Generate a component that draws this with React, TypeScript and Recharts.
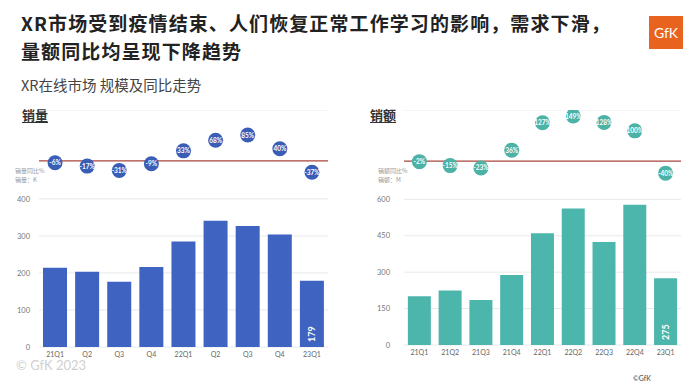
import React from "react";
import {
  ComposedChart,
  Bar,
  Line,
  XAxis,
  YAxis,
  CartesianGrid,
  ReferenceLine,
  LabelList,
} from "recharts";

// 销量 (K) 与同比
const volQuarters = ["21Q1", "Q2", "Q3", "Q4", "22Q1", "Q2", "Q3", "Q4", "23Q1"];
const volValues = [214, 203, 176, 216, 285, 341, 327, 304, 179];
const volYoY = [-6, -17, -31, -9, 33, 68, 85, 40, -37];
const volTicks = [0, 100, 200, 300, 400];

// 销额 (M) 与同比
const valQuarters = ["21Q1", "21Q2", "21Q3", "21Q4", "22Q1", "22Q2", "22Q3", "22Q4", "23Q1"];
const valValues = [201, 225, 185, 288, 460, 562, 424, 578, 275];
const valYoY = [-2, -15, -23, 36, 127, 149, 128, 100, -40];
const valTicks = [0, 150, 300, 450, 600];

const CJK = "'Noto Sans CJK SC', 'Noto Sans', sans-serif";
const NUM = "Lato, 'Noto Sans', sans-serif";

type PanelProps = {
  quarters: string[];
  values: number[];
  yoy: number[];
  ticks: number[];
  barMax: number;
  yoyDomain: [number, number];
  barColor: string;
  dotColor: string;
  yWidth: number;
  tickMargin: number;
  right: number;
  height: number;
};

function Panel(p: PanelProps) {
  const data = p.values.map((v, i) => ({ i, v, yoy: p.yoy[i] }));
  const last = data.length - 1;
  return (
    <ComposedChart
      width={340}
      height={p.height}
      data={data}
      margin={{ top: 0, right: p.right, left: 0, bottom: 0 }}
      barCategoryGap="12.5%"
    >
      <CartesianGrid yAxisId="bar" vertical={false} stroke="#e9e9e9" />
      <XAxis
        dataKey="i"
        type="category"
        tickFormatter={(v: number) => p.quarters[v]}
        axisLine={false}
        tickLine={false}
        tickSize={4}
        tickMargin={1}
        height={14}
        interval={0}
        tick={{ fontSize: 7, fill: "#666", fontFamily: NUM }}
      />
      <YAxis
        yAxisId="bar"
        domain={[0, p.barMax]}
        ticks={p.ticks}
        axisLine={false}
        tickLine={false}
        tickSize={4}
        tickMargin={p.tickMargin}
        width={p.yWidth}
        tick={{ fontSize: 7.5, fill: "#777", fontFamily: NUM }}
      />
      <YAxis yAxisId="yoy" hide domain={p.yoyDomain} />
      <Bar yAxisId="bar" dataKey="v" fill={p.barColor} isAnimationActive={false}>
        <LabelList
          dataKey="v"
          content={(lp: any) => {
            if (lp.index !== last) return null;
            const cx = lp.x + lp.width / 2;
            const by = lp.y + lp.height - 5;
            return (
              <text
                x={cx}
                y={by}
                transform={`rotate(-90 ${cx} ${by})`}
                textAnchor="start"
                dominantBaseline="central"
                fill="#fff"
                fontSize={9}
                fontWeight={700}
                fontFamily={NUM}
              >
                {lp.value}
              </text>
            );
          }}
        />
      </Bar>
      <ReferenceLine yAxisId="yoy" y={0} stroke="#a8463d" strokeWidth={1.2} />
      <Line
        yAxisId="yoy"
        dataKey="yoy"
        stroke="none"
        dot={{ r: 7.5, fill: p.dotColor, stroke: "none" }}
        activeDot={false}
        isAnimationActive={false}
      >
        <LabelList
          dataKey="yoy"
          content={(lp: any) => (
            <text
              x={lp.x}
              y={lp.y}
              textAnchor="middle"
              dominantBaseline="central"
              fill="#fff"
              fontSize={String(lp.value).length > 3 ? 5.5 : 6.5}
              fontWeight={700}
              fontFamily={NUM}
            >
              {lp.value}%
            </text>
          )}
        />
      </Line>
    </ComposedChart>
  );
}

const abs = (s: React.CSSProperties): React.CSSProperties => ({ position: "absolute", whiteSpace: "nowrap", ...s });

const titleStyle: React.CSSProperties = { fontSize: 19, lineHeight: "20px", letterSpacing: 1.1, fontWeight: 700, color: "#222" };

export default function App() {
  return (
    <div style={{ position: "absolute", left: 0, top: 0, width: 700, height: 390, background: "#fff", overflow: "hidden", fontFamily: CJK }}>
      <div style={abs({ left: 21, top: 13, ...titleStyle })}>
        XR市场受到疫情结束、人们恢复正常工作学习的影响，需求下滑，
      </div>
      <div style={abs({ left: 21, top: 41, ...titleStyle })}>量额同比均呈现下降趋势</div>
      <div style={abs({ left: 649, top: 16, width: 34, height: 33, background: "#e8641e", color: "#fff", fontFamily: NUM, fontSize: 14, lineHeight: "33px", textAlign: "center" })}>
        GfK
      </div>
      <div style={abs({ left: 21, top: 77, fontSize: 14.5, lineHeight: "16px", color: "#444" })}>
        XR在线市场 规模及同比走势
      </div>

      <div style={abs({ left: 22, top: 107, fontSize: 13, lineHeight: "16px", fontWeight: 700, color: "#333", textDecoration: "underline", textUnderlineOffset: 2 })}>
        销量
      </div>
      <div style={abs({ left: 370, top: 107, fontSize: 13, lineHeight: "16px", fontWeight: 700, color: "#333", textDecoration: "underline", textUnderlineOffset: 2 })}>
        销额
      </div>

      <div style={abs({ left: 15, top: 166, fontSize: 6, lineHeight: "9px", color: "#999" })}>
        销量同比%
        <br />
        销量：K
      </div>
      <div style={abs({ left: 378, top: 166, fontSize: 6, lineHeight: "9px", color: "#999" })}>
        销额同比%
        <br />
        销额：M
      </div>

      <div style={abs({ left: 0, top: 110 })}>
        <Panel
          quarters={volQuarters}
          values={volValues}
          yoy={volYoY}
          ticks={volTicks}
          barMax={640}
          yoyDomain={[-610, 167]}
          barColor="#3e63c1"
          dotColor="#3a5db5"
          yWidth={39}
          tickMargin={5}
          right={12}
          height={251}
        />
      </div>
      <div style={abs({ left: 350, top: 110 })}>
        <Panel
          quarters={valQuarters}
          values={valValues}
          yoy={valYoY}
          ticks={valTicks}
          barMax={968}
          yoyDomain={[-609, 169]}
          barColor="#4db6ac"
          dotColor="#4cb2a6"
          yWidth={54}
          tickMargin={10}
          right={9}
          height={249}
        />
      </div>

      <div style={abs({ left: 16, top: 359, fontSize: 13, lineHeight: "13px", color: "#cfcfcf", fontFamily: NUM })}>
        © GfK 2023
      </div>
      <div style={abs({ left: 633, top: 374, fontSize: 7, lineHeight: "8px", color: "#444", fontFamily: NUM })}>
        ©GfK
      </div>
    </div>
  );
}
